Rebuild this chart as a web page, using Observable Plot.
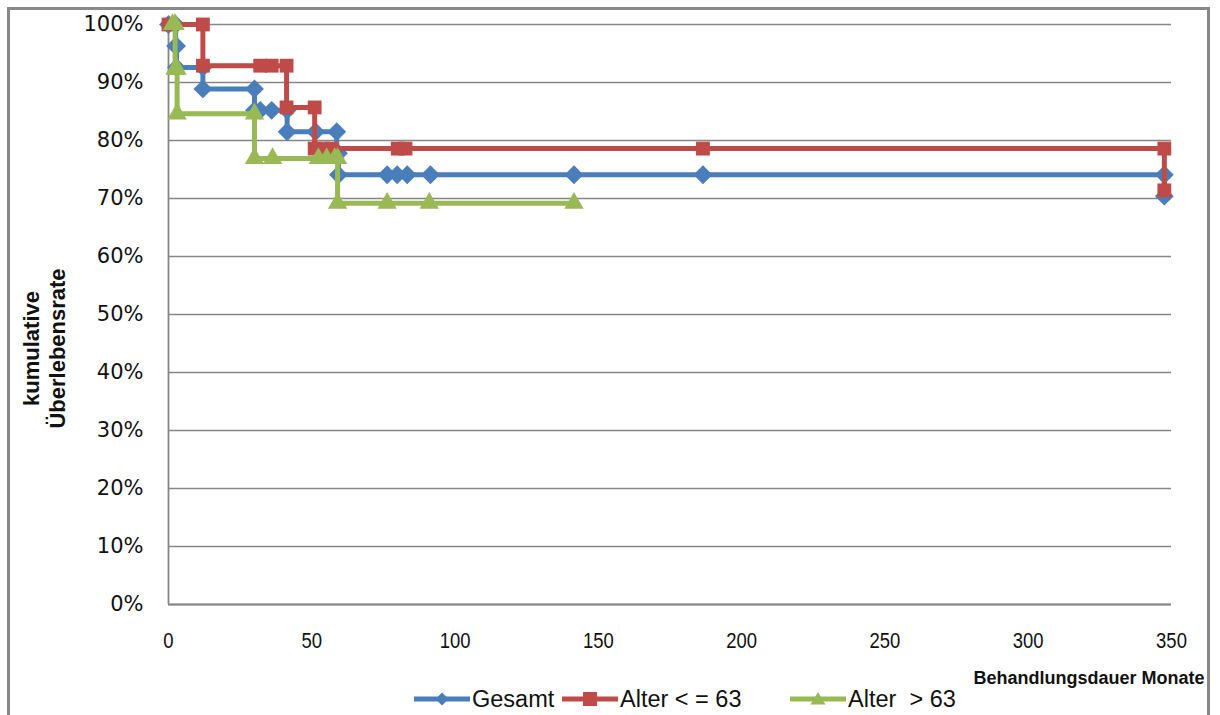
<!DOCTYPE html>
<html>
<head>
<meta charset="utf-8">
<script src="https://cdn.jsdelivr.net/npm/d3@7"></script>
<script src="https://cdn.jsdelivr.net/npm/@observablehq/plot@0.6"></script>
<style>
  html, body { margin: 0; padding: 0; background: #fff; }
  #wrap { position: relative; width: 1220px; height: 715px; overflow: hidden; background: #fff; }
  #chart { position: absolute; left: 0; top: 0; }
  #border { position: absolute; left: 7px; top: 7px; width: 1203px; height: 800px; box-sizing: border-box;
            border: 3px solid #898989; pointer-events: none; }
  #legend { position: absolute; left: 0; top: 686px; width: 1220px; height: 26px;
            font-family: "Liberation Sans", Arial, sans-serif; font-size: 23.5px; color: #111; }
  .item { position: absolute; top: 0; height: 26px; display: flex; align-items: center; white-space: pre; }
  .item svg { margin-right: 2px; }
</style>
</head>
<body>
<div id="wrap">
  <div id="chart"></div>
  <div id="legend"></div>
  <div id="border"></div>
</div>
<script>
// ---- data ----
const seriesNames = ["Gesamt", "Alter < = 63", "Alter  > 63"];
const seriesColors = ["#4A7EBB", "#BE4B48", "#98B954"];

const gesamtMonate = [0, 2.5, 2.5, 2.8, 2.8, 12, 12, 30, 30, 32, 36, 41.4, 41.4, 51.3, 58.7, 58.7, 59.3, 59.3, 76.3, 79.8, 83.3, 91.4, 141.5, 186.5, 347.5, 347.5];
const gesamtRate   = [100, 100, 96.3, 96.3, 92.6, 92.6, 88.9, 88.9, 85.2, 85.2, 85.2, 85.2, 81.5, 81.5, 81.5, 77.8, 77.8, 74.1, 74.1, 74.1, 74.1, 74.1, 74.1, 74.1, 74.1, 70.4];

const jungMonate = [0, 12, 12, 32, 36, 41.2, 41.2, 51, 51, 53.7, 57, 80, 82.7, 186.5, 347.5, 347.5];
const jungRate   = [100, 100, 92.9, 92.9, 92.9, 92.9, 85.7, 85.7, 78.6, 78.6, 78.6, 78.6, 78.6, 78.6, 78.6, 71.4];

const altMonate = [1.4, 2.3, 2.3, 3, 3, 30, 30, 36.3, 52.3, 55.2, 58, 59, 59, 76.3, 91, 141.5];
const altRate   = [100, 100, 92.3, 92.3, 84.6, 84.6, 76.9, 76.9, 76.9, 76.9, 76.9, 76.9, 69.2, 69.2, 69.2, 69.2];

const xTicks = [0, 50, 100, 150, 200, 250, 300, 350];
const yTicks = [0, 10, 20, 30, 40, 50, 60, 70, 80, 90, 100];

const xTitle = "Behandlungsdauer Monate";
const yTitle = "kumulative\nÜberlebensrate";

// ---- build ----
const rows = (m, r) => m.map((x, i) => ({x, y: r[i]}));
const sGes = rows(gesamtMonate, gesamtRate);
const sJung = rows(jungMonate, jungRate);
const sAlt = rows(altMonate, altRate);
const symbols = ["diamond2", "square", "triangle"];
const radii = [8.5, 7.8, 7.2];

const seriesMarks = [sGes, sJung, sAlt].flatMap((d, i) => [
  Plot.line(d, {x: "x", y: "y", stroke: seriesColors[i], strokeWidth: 5, strokeLinejoin: "miter", strokeLinecap: "butt"}),
  Plot.dot(d, {x: "x", y: "y", symbol: symbols[i], r: radii[i], fill: seriesColors[i], stroke: "none"})
]);

const chart = Plot.plot({
  width: 1220,
  height: 690,
  marginLeft: 168,
  marginRight: 49,
  marginTop: 24,
  marginBottom: 86,
  style: {background: "transparent", overflow: "visible"},
  x: {domain: [0, 350]},
  y: {domain: [0, 100]},
  marks: [
    Plot.gridY(yTicks, {stroke: "#868686", strokeOpacity: 1, strokeWidth: 1.6}),
    Plot.ruleX([0], {stroke: "#868686", strokeWidth: 1.8}),
    Plot.ruleY([0], {stroke: "#868686", strokeWidth: 1.8}),
    Plot.axisX(xTicks, {tickSize: 0, tickPadding: 28, label: null, fontSize: 22,
      fontFamily: "'Liberation Sans', Arial, sans-serif", fill: "#111"}),
    Plot.axisY(yTicks, {tickSize: 0, tickPadding: 25, label: null, fontSize: 21,
      fontFamily: "'DejaVu Sans', Verdana, sans-serif", fill: "#111", tickFormat: d => d + "%"}),
    Plot.text([xTitle], {text: d => d, frameAnchor: "bottom-right", textAnchor: "end", lineAnchor: "middle",
      dx: 33, dy: 74, fontSize: 18, fontWeight: "bold",
      fontFamily: "'Liberation Sans', Arial, sans-serif", fill: "#111"}),
    Plot.text([yTitle], {text: d => d, frameAnchor: "left", textAnchor: "middle", rotate: -90, dx: -125, dy: 34,
      lineHeight: 1.18, fontSize: 22, fontWeight: "bold", fontFamily: "'Liberation Sans', Arial, sans-serif", fill: "#111"}),
    ...seriesMarks
  ]
});
document.getElementById("chart").appendChild(chart);

// condensed look for x tick labels (the reference uses a narrow face)
chart.querySelectorAll('g[aria-label="x-axis tick label"] text').forEach(t => {
  const w = t.getComputedTextLength();
  t.setAttribute("textLength", (w * 0.84).toFixed(1));
  t.setAttribute("lengthAdjust", "spacingAndGlyphs");
});

// ---- legend ----
const legendX = [414, 562, 790];
const legend = document.getElementById("legend");
const markerSvg = [
  c => `<polygon points="28,3.5 34.5,10 28,16.5 21.5,10" fill="${c}"/>`,
  c => `<rect x="21" y="3" width="14" height="14" fill="${c}"/>`,
  c => `<polygon points="28,3 35.5,15.5 20.5,15.5" fill="${c}"/>`
];
seriesNames.forEach((name, i) => {
  const div = document.createElement("div");
  div.className = "item";
  div.style.left = legendX[i] + "px";
  div.innerHTML = `<svg width="56" height="20"><line x1="0" x2="56" y1="10" y2="10" stroke="${seriesColors[i]}" stroke-width="5"/>${markerSvg[i](seriesColors[i])}</svg><span></span>`;
  div.querySelector("span").textContent = name;
  legend.appendChild(div);
});
</script>
</body>
</html>
